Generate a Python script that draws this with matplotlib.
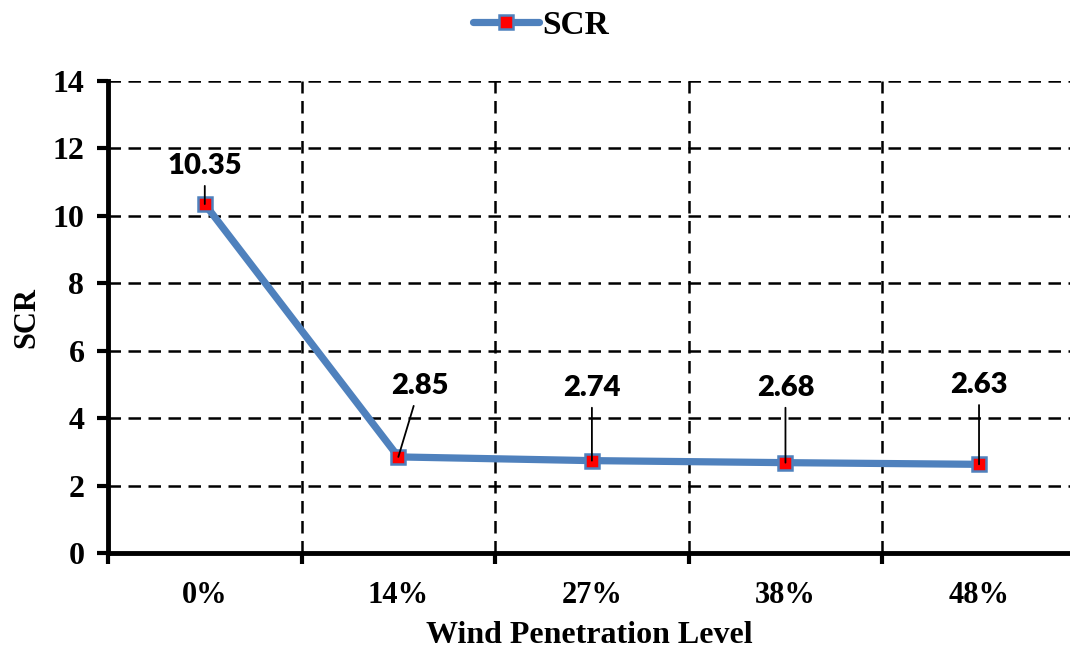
import matplotlib.pyplot as plt

# ---------------------------------
# Data
# ---------------------------------
levels = ["0%", "14%", "27%", "38%", "48%"]
scr = [10.35, 2.85, 2.74, 2.68, 2.63]

# label positions (data coords) for the callouts
label_x = [0, 1.11, 2, 3, 4]
label_y = [11.48, 4.95, 4.9, 4.9, 4.98]

serif = ["Liberation Serif", "DejaVu Serif"]

fig = plt.figure(figsize=(10.7, 6.51), dpi=100)
ax = fig.add_axes([108 / 1070, 1 - 553 / 651, 1 - 108 / 1070, (553 - 81) / 651])

x = list(range(len(levels)))
ax.plot(x, scr, color="#4F81BD", linewidth=5.2, marker="s", markersize=10,
        markerfacecolor="red", markeredgecolor="#4F81BD", markeredgewidth=1.8,
        solid_capstyle="round", label="SCR", zorder=3)

# callouts
for i, v in enumerate(scr):
    ax.annotate(f"{v:.2f}", xy=(i, v), xytext=(label_x[i], label_y[i]),
                ha="center", va="center", fontsize=21, fontweight="heavy",
                family=["Lato", "DejaVu Sans"],
                arrowprops=dict(arrowstyle="-", color="black", lw=1.3,
                                shrinkA=3, shrinkB=0), zorder=4)

ax.set_xlim(-0.5, 4.47)
ax.set_ylim(0, 14)
ax.set_yticks(range(0, 15, 2))
ax.set_xticks(x)
ax.set_xticklabels(levels)
ax.set_xticks([0.5, 1.5, 2.5, 3.5, -0.5], minor=True)

dash = (0, (5, 3))
ax.grid(True, which="minor", axis="x", color="black", linestyle=dash, linewidth=1.8)
ax.grid(True, which="major", axis="y", color="black", linestyle=dash, linewidth=1.8)

ax.tick_params(axis="x", which="major", length=0, pad=20)
ax.tick_params(axis="x", which="minor", length=8, width=3, direction="out")
ax.tick_params(axis="y", length=8, width=3, direction="out", pad=9)

for lab in ax.get_xticklabels():
    lab.set_fontsize(22)
    lab.set_fontweight("bold")
    lab.set_family(serif)
for lab in ax.get_yticklabels():
    lab.set_fontsize(23)
    lab.set_fontweight("bold")
    lab.set_family(serif)

ax.spines["left"].set_linewidth(3.5)
ax.spines["bottom"].set_linewidth(3.5)
ax.spines["top"].set_visible(False)
ax.spines["right"].set_visible(False)

ax.set_xlabel("Wind Penetration Level", fontsize=23, fontweight="bold", family=serif, labelpad=8)
ax.set_ylabel("SCR", fontsize=22, fontweight="bold", family=serif, labelpad=8)

ax.legend(loc="upper center", bbox_to_anchor=(0.45, 1.215), frameon=False,
          prop={"family": serif, "weight": "bold", "size": 24},
          handlelength=2.0, handletextpad=0.1)

fig.savefig("out.png", dpi=100)
